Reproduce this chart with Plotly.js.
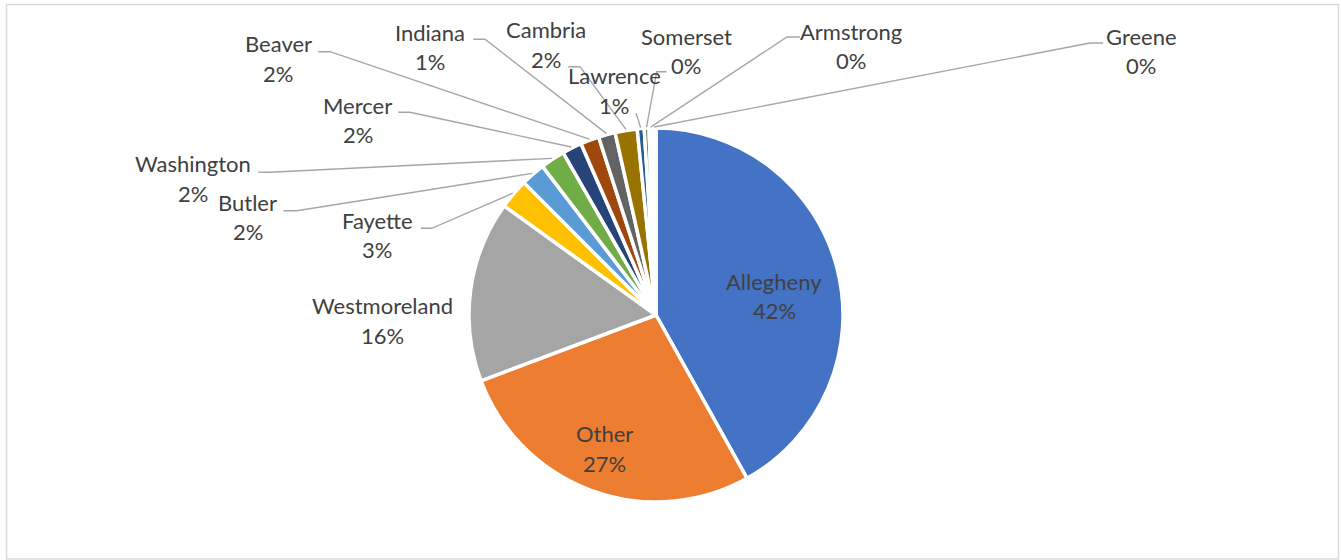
<!DOCTYPE html>
<html><head><meta charset="utf-8">
<script src="https://cdn.plot.ly/plotly-3.0.1.min.js"></script>
<style>html,body{margin:0;padding:0;background:#fff}#chart{width:1341px;height:560px}</style>
</head><body><div id="chart"></div>
<script>
// ---- data ----
const counties = ['Allegheny','Other','Westmoreland','Fayette','Butler','Washington','Mercer','Beaver','Indiana','Cambria','Lawrence','Somerset','Armstrong','Greene'];
const shares = [41.8, 27.3, 15.6, 2.6, 2.1, 2.1, 1.7, 1.6, 1.45, 1.9, 0.6, 0.4, 0.3, 0.3];
const sliceColors = ['#4472C4','#ED7D31','#A5A5A5','#FFC000','#5B9BD5','#70AD47','#264478','#9E480E','#636363','#997300','#255E91','#43682B','#698ED0','#F1975A'];

// ---- layout geometry (pixels) ----
const W = 1341, H = 560, CX = 656, CY = 315, R = 187;
const LINE_GAP = 29.5;
// label centre (name line) and optional leader line [startX, startY, elbowX]
const labelLayout = {
  Allegheny:   {x: 774,   y: 281.3},
  Other:       {x: 604,   y: 433.8},
  Westmoreland:{x: 382.5, y: 305.8},
  Fayette:     {x: 377,   y: 220.5, line: [420.7, 228.3, 431.7]},
  Butler:      {x: 247.5, y: 202,   line: [283.3, 210.7, 296.7]},
  Washington:  {x: 192.5, y: 163.7, line: [258.3, 172.3, 270]},
  Mercer:      {x: 357.7, y: 105.3, line: [398.3, 112.3, 410]},
  Beaver:      {x: 278,   y: 43.7,  line: [318.3, 51.7, 330]},
  Indiana:     {x: 430,   y: 32,    line: [473.3, 39.3, 485]},
  Cambria:     {x: 546.3, y: 29.7,  line: [568.3, 66.7, 580]},
  Lawrence:    {x: 614,   y: 76,    line: [636, 113, 636]},
  Somerset:    {x: 686,   y: 36,    line: [666.7, 71.7, 656.7]},
  Armstrong:   {x: 851,   y: 31,    line: [800, 37, 787]},
  Greene:      {x: 1141,  y: 36,    line: [1103, 43, 1090]}
};

const px = x => x / W;
const py = y => 1 - y / H;
const total = shares.reduce((a, b) => a + b, 0);

const annotations = [];
const shapes = [];
const textFont = {family: 'Lato, "Open Sans", sans-serif', size: 22, color: '#404040'};

let cum = 0;
counties.forEach((name, i) => {
  const v = shares[i];
  const mid = (cum + v / 2) / total * 2 * Math.PI;
  cum += v;
  const ex = CX + (R + 1) * Math.sin(mid);
  const ey = CY - (R + 1) * Math.cos(mid);
  const L = labelLayout[name];
  const pct = Math.round(v / total * 100) + '%';
  annotations.push({x: px(L.x), y: py(L.y), xref: 'paper', yref: 'paper', text: name,
    showarrow: false, xanchor: 'center', yanchor: 'middle', font: textFont});
  annotations.push({x: px(L.x), y: py(L.y + LINE_GAP), xref: 'paper', yref: 'paper', text: pct,
    showarrow: false, xanchor: 'center', yanchor: 'middle', font: textFont});
  if (L.line) {
    const [sx, sy, bx] = L.line;
    shapes.push({type: 'path', xref: 'paper', yref: 'paper',
      path: `M${px(sx)},${py(sy)} L${px(bx)},${py(sy)} L${px(ex)},${py(ey)}`,
      line: {color: '#A6A6A6', width: 1.4}});
  }
});

// chart frame
shapes.push({type: 'rect', xref: 'paper', yref: 'paper',
  x0: px(6.5), x1: px(1338.5), y0: py(4.5), y1: py(559),
  line: {color: '#D9D9D9', width: 1.5}, fillcolor: 'rgba(0,0,0,0)'});

const trace = {
  type: 'pie',
  labels: counties,
  values: shares,
  sort: false,
  direction: 'clockwise',
  rotation: 0,
  textinfo: 'none',
  hoverinfo: 'none',
  marker: {colors: sliceColors, line: {color: '#FFFFFF', width: 3.5}},
  domain: {x: [px(CX - R), px(CX + R)], y: [py(CY + R), py(CY - R)]},
  showlegend: false
};

Plotly.newPlot('chart', [trace], {
  width: W, height: H,
  margin: {l: 0, r: 0, t: 0, b: 0},
  paper_bgcolor: '#FFFFFF',
  showlegend: false,
  annotations: annotations,
  shapes: shapes
}, {staticPlot: true, displayModeBar: false});
</script>
</body></html>
